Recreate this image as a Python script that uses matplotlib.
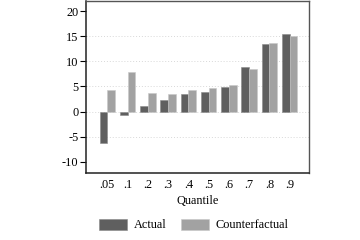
import matplotlib
matplotlib.use("Agg")
import matplotlib.pyplot as plt
import numpy as np

quantiles = [".05", ".1", ".2", ".3", ".4", ".5", ".6", ".7", ".8", ".9"]
actual = [-6.3, -0.75, 1.1, 2.4, 3.45, 3.95, 4.85, 8.8, 13.45, 15.45]
counterfactual = [4.35, 7.9, 3.7, 3.5, 4.3, 4.65, 5.3, 8.5, 13.7, 15.05]
yticks = [-10, -5, 0, 5, 10, 15, 20]

plt.rcParams['font.family'] = ['Liberation Serif', 'DejaVu Serif']

fig = plt.figure(figsize=(3.6, 2.4), dpi=100)
ax = fig.add_axes([0.239, 0.279, 0.619, 0.717])

x = np.arange(len(quantiles))
w = 0.38
ax.bar(x - w / 2, actual, w, color='#5f5f5f', edgecolor='#8a8a8a', linewidth=0.4, label='Actual', zorder=3)
ax.bar(x + w / 2, counterfactual, w, color='#a2a2a2', edgecolor='#c8c8c8', linewidth=0.4, label='Counterfactual', zorder=3)

for g in [-5, 0, 5, 10, 15]:
    ax.axhline(g, color='#d8d8d8', linestyle=(0, (1, 2)), linewidth=0.7, zorder=1)

ax.set_xlim(-1.05, 9.95)
ax.set_ylim(-12.3, 22.1)
ax.set_yticks(yticks)
ax.set_yticklabels([str(v) for v in yticks], fontsize=8.8)
ax.set_xticks(x)
ax.set_xticklabels(quantiles, fontsize=8.8)
ax.tick_params(axis='x', length=0, pad=4)
ax.tick_params(axis='y', length=4, width=0.8, pad=1.5, direction='out')
ax.set_xlabel('Quantile', fontsize=8.8, labelpad=3)

for s in ['left', 'bottom']:
    ax.spines[s].set_color('#222222')
    ax.spines[s].set_linewidth(1.1)
for s in ['top', 'right']:
    ax.spines[s].set_color('#555555')
    ax.spines[s].set_linewidth(1.0)

fig.legend(loc='lower center', bbox_to_anchor=(0.538, -0.01), ncol=2, frameon=False,
           fontsize=8.8, handlelength=2.3, handleheight=1.0, columnspacing=1.2, handletextpad=0.5)

fig.savefig('out.png', dpi=100)
